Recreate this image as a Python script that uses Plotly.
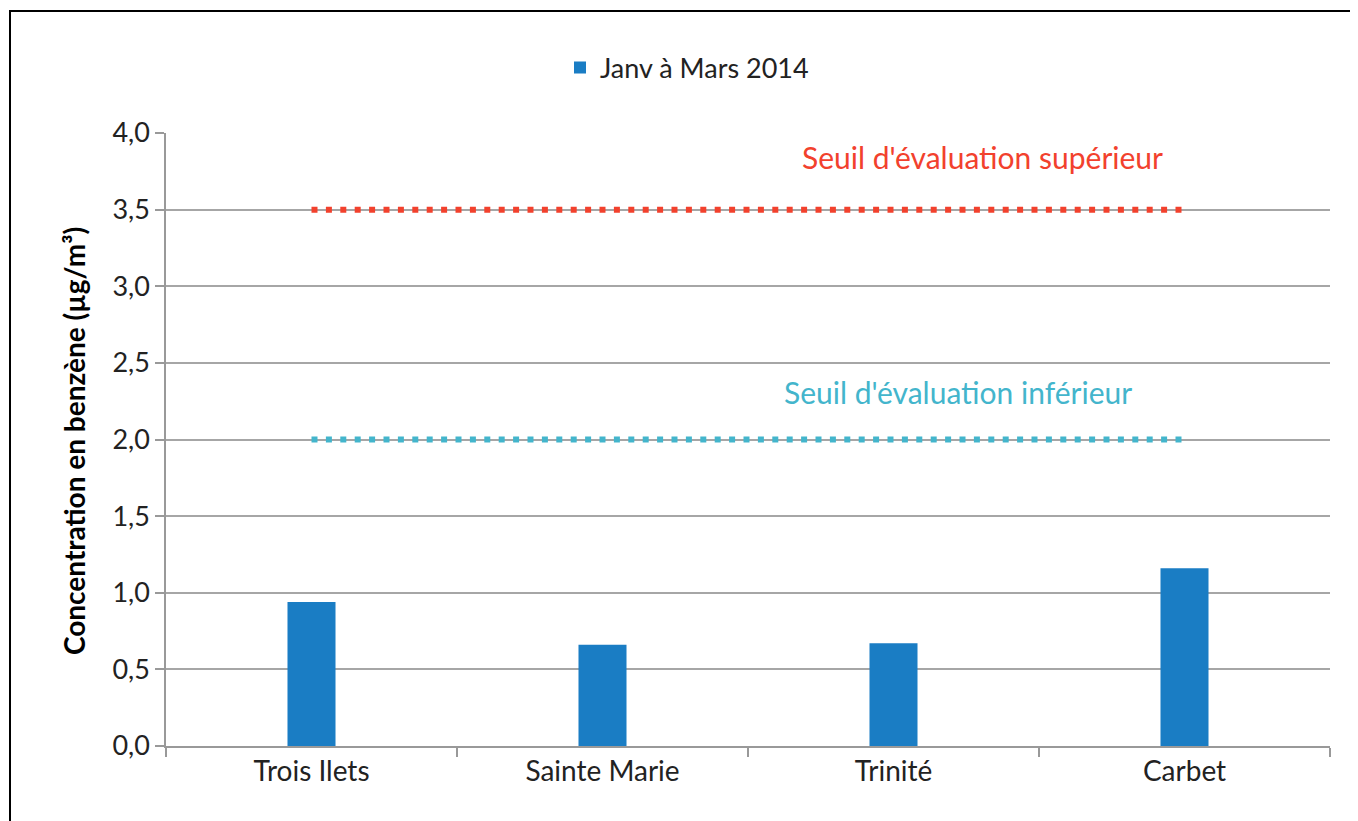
import plotly.graph_objects as go

categories = ["Trois Ilets", "Sainte Marie", "Trinité", "Carbet"]
values = [0.94, 0.66, 0.67, 1.16]
series_name = "Janv à Mars 2014"
seuil_sup = 3.5
seuil_inf = 2.0
label_sup = "Seuil d'évaluation supérieur"
label_inf = "Seuil d'évaluation inférieur"
y_title = "<b>Concentration en benzène (µg/m³)</b>"

FONT = "Lato, 'Open Sans', sans-serif"
OFF = 8  # default body margin of the html page
W, H = 1350, 813
L, T = 158, 125
R = W - (1330 - OFF)
B = H - (746 - OFF)
PW, PH = W - L - R, H - T - B


def px_x(px):
    return (px - OFF - L) / PW


def px_y(py):
    return (H - B - (py - OFF)) / PH


fig = go.Figure()
fig.add_trace(go.Bar(x=categories, y=values, name=series_name,
                     marker=dict(color="#1a7dc4", line=dict(width=0)),
                     width=0.165))
fig.add_trace(go.Scatter(x=[categories[0], categories[-1]], y=[seuil_sup, seuil_sup],
                         mode="lines", showlegend=False, hoverinfo="skip",
                         line=dict(color="#f2412d", width=6, dash="6px,8.4px")))
fig.add_trace(go.Scatter(x=[categories[0], categories[-1]], y=[seuil_inf, seuil_inf],
                         mode="lines", showlegend=False, hoverinfo="skip",
                         line=dict(color="#43b5cc", width=6, dash="6px,8.4px")))

fig.add_annotation(x=px_x(983), y=px_y(157), xref="paper", yref="paper",
                   xanchor="center", yanchor="middle",
                   text=label_sup, showarrow=False,
                   font=dict(family=FONT, size=30, color="#f2412d"))
fig.add_annotation(x=px_x(958), y=px_y(392), xref="paper", yref="paper",
                   xanchor="center", yanchor="middle",
                   text=label_inf, showarrow=False,
                   font=dict(family=FONT, size=30, color="#43b5cc"))
fig.add_annotation(x=px_x(74), y=px_y(441), xref="paper", yref="paper",
                   xanchor="center", yanchor="middle",
                   text=y_title, showarrow=False, textangle=-90,
                   font=dict(family=FONT, size=28, color="black"))

fig.add_shape(type="rect", xref="paper", yref="paper",
              x0=px_x(10), x1=px_x(1380), y0=px_y(840), y1=px_y(11),
              line=dict(color="black", width=2), layer="above")

fig.update_layout(
    width=W, height=H,
    margin=dict(l=L, r=R, t=T, b=B),
    paper_bgcolor="white", plot_bgcolor="white",
    separators=", ",
    font=dict(family=FONT, size=26, color="#222"),
    showlegend=True,
    legend=dict(orientation="h", x=px_x(560), xanchor="left",
                y=px_y(68), yanchor="middle",
                font=dict(family=FONT, size=27, color="#222"),
                bgcolor="rgba(0,0,0,0)"),
    bargap=0.835,
)
fig.update_xaxes(type="category", tickson="boundaries", ticks="outside",
                 ticklen=9, tickcolor="#999", tickwidth=1.5,
                 showline=True, linecolor="#999", linewidth=1.5,
                 showgrid=False, tickfont=dict(family=FONT, size=28, color="#222"),
                 range=[-0.5, 3.5])
fig.update_yaxes(range=[0, 4.0], dtick=0.5, tickformat=".1f",
                 ticks="outside", ticklen=9, tickcolor="#999", tickwidth=1.5,
                 showline=True, linecolor="#999", linewidth=1.5,
                 showgrid=True, gridcolor="#a6a6a6", gridwidth=1.5,
                 zeroline=False,
                 tickfont=dict(family=FONT, size=27, color="#222"))

fig.write_html("out.html")
